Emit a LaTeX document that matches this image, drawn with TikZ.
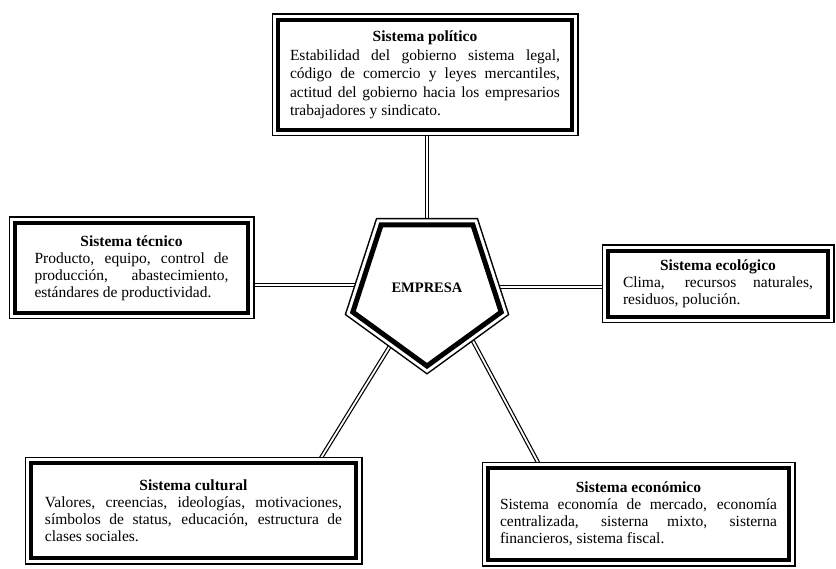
\documentclass[tikz,border=0pt]{standalone}
\usepackage{fontspec}
\setmainfont{Liberation Serif}
\usetikzlibrary{shapes.geometric,backgrounds}
\begin{document}
\begin{tikzpicture}[x=1pt,y=-1pt,
  frame/.style={draw=black, line width=4.5pt, fill=white, line join=miter, inner sep=0pt, align=justify,
     font=\fontsize{15.5}{17}\selectfont,
     preaction={draw=black, line width=13pt, line join=miter},
     preaction={draw=white, line width=10pt, line join=miter}},
  pent/.style={regular polygon, regular polygon sides=5, shape border rotate=180,
     minimum size=156pt, inner sep=0pt, draw=black, fill=white, line width=5pt, line join=miter,
     preaction={draw=black, line width=14pt, line join=miter},
     preaction={draw=white, line width=11pt, line join=miter},
     font=\fontsize{14.5}{16}\selectfont\bfseries},
  conn/.style={draw=black, line width=1.2pt, double=white, double distance=1.8pt}]
\useasboundingbox (0,0) rectangle (836,569);

\node[frame, minimum width=294pt, minimum height=110pt, text width=270pt,
      font=\fontsize{15.5}{18.5}\selectfont] (pol) at (425,75)
  {{\centering\bfseries Sistema político\par}Estabilidad del gobierno sistema legal,\linebreak código de comercio y leyes mercantiles,\linebreak actitud del gobierno hacia los empresarios\linebreak trabajadores y sindicato.};

\node[frame, minimum width=233pt, minimum height=90pt, text width=194pt] (tec) at (131.5,268)
  {{\centering\bfseries Sistema técnico\par}Producto, equipo, control de\linebreak producción, abastecimiento,\linebreak estándares de productividad.};

\node[frame, minimum width=220pt, minimum height=66pt, text width=190pt] (eco) at (718,284)
  {{\centering\bfseries Sistema ecológico\par}Clima, recursos naturales,\linebreak residuos, polución.};

\node[frame, minimum width=325pt, minimum height=95pt, text width=297pt] (cul) at (193.5,510.5)
  {{\centering\bfseries Sistema cultural\par}Valores, creencias, ideologías, motivaciones,\linebreak símbolos de status, educación, estructura de\linebreak clases sociales.};

\node[frame, minimum width=301pt, minimum height=92pt, text width=277pt] (ecn) at (638.5,514)
  {{\centering\bfseries Sistema económico\par}Sistema economía de mercado, economía\linebreak centralizada, sisterna mixto, sisterna\linebreak financieros, sistema fiscal.};

\node[pent] (emp) at (427,288) {EMPRESA};

\begin{scope}[on background layer]
  \draw[conn] (emp.center) -- (emp.center |- pol.south);
  \coordinate (tecL) at ([yshift=3pt]emp.center);
  \draw[conn] (tecL) -- (tecL -| tec.east);
  \coordinate (ecoR) at ([yshift=1pt]emp.center);
  \draw[conn] (ecoR) -- (ecoR -| eco.west);
  \coordinate (culT) at ([xshift=-39pt]cul.north east);
  \draw[conn] (culT) -- ++(82,-133);
  \coordinate (ecnT) at ([xshift=54pt]ecn.north west);
  \draw[conn] (ecnT) -- ++(-75,-140);
\end{scope}
\end{tikzpicture}
\end{document}
